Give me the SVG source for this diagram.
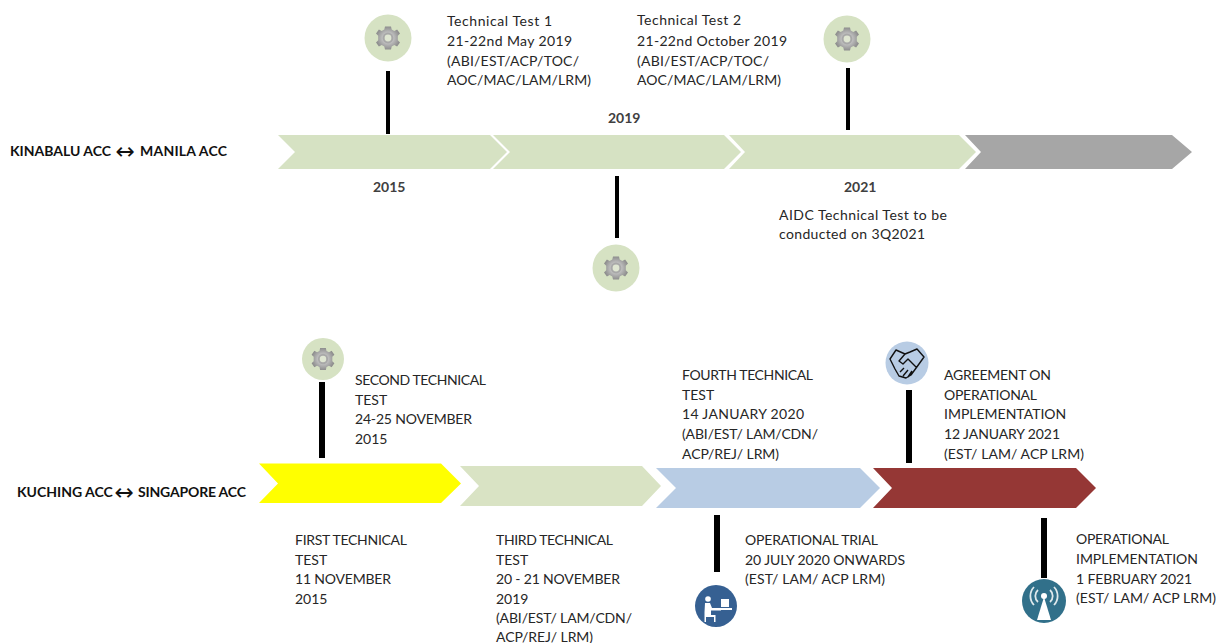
<svg xmlns="http://www.w3.org/2000/svg" width="1216" height="643" viewBox="0 0 1216 643">
<style>
text{font-family:Lato,"Open Sans","Liberation Sans",sans-serif;font-size:14px;fill:#262626}
.b{font-weight:700;fill:#404040}
.k{font-weight:700;fill:#111}
.ar{font-family:"DejaVu Sans",sans-serif;font-size:23px;font-weight:400;fill:#111}
.stem{stroke:#000;stroke-width:4;fill:none}
.stem2{stroke:#000;stroke-width:6;fill:none}
</style>
<defs>
<radialGradient id="gearFill"><stop offset="0.4" stop-color="#c4c4c4"/><stop offset="1" stop-color="#8e8e8e"/></radialGradient>
<g id="gear">
<path fill="url(#gearFill)" d="M-3-11.500H3L3.700-8.400 6.300-7 9.100-8.600 12-4.500 9.800-2.300V2.300L12 4.500 9.100 8.600 6.300 7 3.700 8.400 3 11.500H-3L-3.700 8.400-6.300 7-9.100 8.600-12 4.500-9.800 2.300V-2.300L-12-4.500-9.100-8.600-6.300-7-3.700-8.400Z"/>
<circle r="5.400" fill="#a8a8a8"/><circle r="3.400" fill="#dfe6d2"/>
</g>
</defs>
<rect width="1216" height="643" fill="#fff"/>
<g id="connectors">
<path class="stem" d="M388 71V134"/><path class="stem" d="M617 176V238"/><path class="stem" d="M848 68V130"/>
<path class="stem2" d="M322 382V458"/><path class="stem2" d="M909 390V463"/><path class="stem2" d="M717 515V572"/><path class="stem2" d="M1044 518V578"/>
</g>
<g id="track-1">
<path id="bar-2015" fill="#d6e2c3" d="M278 135H490L507 152 490 169H278L295 152Z"/>
<path id="bar-2019" fill="#d6e2c3" d="M493 135H724L741 152 724 169H493L510 152Z"/>
<path id="bar-2021" fill="#d6e2c3" d="M729 135H959L976 152 959 169H729L745 152Z"/>
<path id="bar-future" fill="#a6a6a6" d="M965 135H1172L1192 152 1172 169H965L981 152Z"/>
</g>
<g id="track-2">
<path id="bar-first" fill="#ffff00" d="M259 463.500H441L461 483.500 441 503H259L278 483.500Z"/>
<path id="bar-third" fill="#d9e3c4" d="M460 466H642L661 486 642 506H460L479 486Z"/>
<path id="bar-trial" fill="#b8cce4" d="M656 468H860L880 488 860 508H656L676 488Z"/>
<path id="bar-impl" fill="#953735" d="M873 468H1076L1096 488 1076 508H873L892 488Z"/>
</g>
<g id="label-1"><text class="k" y="156"><tspan x="10">KINABALU ACC</tspan><tspan class="ar" x="115.500" y="159">↔</tspan><tspan x="140" y="156" textLength="87">MANILA ACC</tspan></text></g>
<g id="label-2"><text class="k" y="497"><tspan x="17">KUCHING ACC</tspan><tspan class="ar" x="114.500" y="500">↔</tspan><tspan x="138" y="497" textLength="108">SINGAPORE ACC</tspan></text></g>
<g id="years">
<text class="b" x="373" y="192">2015</text><text class="b" x="608" y="123">2019</text><text class="b" x="844" y="192">2021</text>
</g>
<g id="icon-2015"><circle cx="388" cy="38" r="23.500" fill="#d6e2c3"/><use href="#gear" x="388" y="38"/></g>
<g id="icon-2019"><circle cx="616" cy="268" r="23.500" fill="#d6e2c3"/><use href="#gear" x="616" y="268"/></g>
<g id="icon-2021"><circle cx="847" cy="39" r="23.500" fill="#d6e2c3"/><use href="#gear" x="847" y="39"/></g>
<g id="icon-second"><circle cx="323" cy="359" r="21" fill="#d6e2c3"/><use href="#gear" transform="translate(323 359) scale(.95)"/></g>
<g id="icon-agreement"><circle cx="907" cy="363" r="21.500" fill="#b8cce4"/>
<path fill="none" stroke="#111" stroke-width="1.400" stroke-linejoin="round" d="M890 359L896 350 905 354 910 352 917 349 924 357 919 364 911 375 906 378 899 376 895 369ZM905 354L899 361 903 364 908 359 917 368M900 372L904 368M903 376L908 370M908 377L912 371"/></g>
<g id="icon-trial"><circle cx="716" cy="606" r="21" fill="#366092"/>
<circle cx="708" cy="599" r="2.800" fill="#fff"/><path fill="#fff" d="M705 603H710L712 608H721V610.500H711V615H715.500V622H714V617H706V622H704.500V612Z"/><path fill="#fff" d="M721 599H729V607H721ZM716 608H732V610H716Z"/></g>
<g id="icon-impl"><circle cx="1044" cy="601" r="22" fill="#31708a"/>
<path fill="#fff" d="M1044 597L1051 620H1037Z"/><circle cx="1044" cy="596" r="3" fill="#fff"/>
<path fill="none" stroke="#dfe9ec" stroke-width="1.800" d="M1038 590A8 8 0 0 0 1038 602M1050 590A8 8 0 0 1 1050 602M1034 587A13 13 0 0 0 1034 605M1054 587A13 13 0 0 1 1054 605"/></g>
<g id="note-test1"><text x="447" y="26" textLength="105">Technical Test 1</text><text x="447" y="46" textLength="125">21-22nd May 2019</text><text x="447" y="66" textLength="132">(ABI/EST/ACP/TOC/</text><text x="447" y="85" textLength="144">AOC/MAC/LAM/LRM)</text></g>
<g id="note-test2"><text x="637" y="25" textLength="104">Technical Test 2</text><text x="637" y="46" textLength="150">21-22nd October 2019</text><text x="637" y="66" textLength="132">(ABI/EST/ACP/TOC/</text><text x="637" y="85" textLength="144">AOC/MAC/LAM/LRM)</text></g>
<g id="note-aidc"><text x="779" y="220" textLength="168">AIDC Technical Test to be</text><text x="779" y="239" textLength="146">conducted on 3Q2021</text></g>
<g id="note-second"><text x="355" y="385" textLength="131">SECOND TECHNICAL</text><text x="355" y="405">TEST</text><text x="355" y="424" textLength="117">24-25 NOVEMBER</text><text x="355" y="444">2015</text></g>
<g id="note-fourth"><text x="682" y="380" textLength="131">FOURTH TECHNICAL</text><text x="682" y="400">TEST</text><text x="682" y="419" textLength="122">14 JANUARY 2020</text><text x="682" y="439" textLength="136">(ABI/EST/ LAM/CDN/</text><text x="682" y="459" textLength="97">ACP/REJ/ LRM)</text></g>
<g id="note-agreement"><text x="944" y="380" textLength="107">AGREEMENT ON</text><text x="944" y="400" textLength="93">OPERATIONAL</text><text x="944" y="419">IMPLEMENTATION</text><text x="944" y="439" textLength="116">12 JANUARY 2021</text><text x="944" y="459" textLength="140">(EST/ LAM/ ACP LRM)</text></g>
<g id="note-first"><text x="295" y="545" textLength="112">FIRST TECHNICAL</text><text x="295" y="565">TEST</text><text x="295" y="584" textLength="96">11 NOVEMBER</text><text x="295" y="604">2015</text></g>
<g id="note-third"><text x="496" y="545" textLength="117">THIRD TECHNICAL</text><text x="496" y="565">TEST</text><text x="496" y="584" textLength="124">20 - 21 NOVEMBER</text><text x="496" y="604">2019</text><text x="496" y="623" textLength="136">(ABI/EST/ LAM/CDN/</text><text x="496" y="642" textLength="97">ACP/REJ/ LRM)</text></g>
<g id="note-trial"><text x="745" y="545" textLength="133">OPERATIONAL TRIAL</text><text x="745" y="565" textLength="160">20 JULY 2020 ONWARDS</text><text x="745" y="584" textLength="140">(EST/ LAM/ ACP LRM)</text></g>
<g id="note-impl"><text x="1076" y="544" textLength="93">OPERATIONAL</text><text x="1076" y="564" textLength="122">IMPLEMENTATION</text><text x="1076" y="584" textLength="116">1 FEBRUARY 2021</text><text x="1076" y="603" textLength="140">(EST/ LAM/ ACP LRM)</text></g>
</svg>
